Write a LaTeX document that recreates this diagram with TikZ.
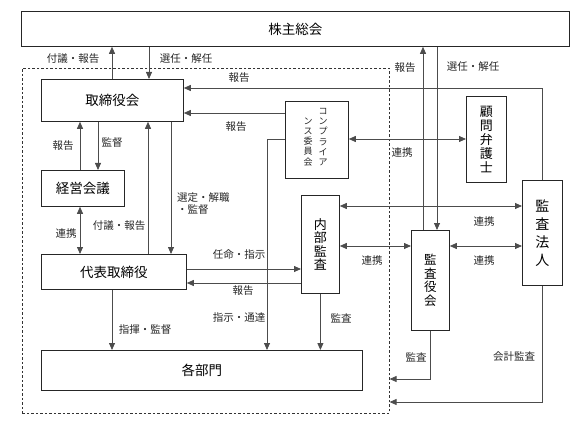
\documentclass[tikz,border=0pt]{standalone}
\usepackage{fontspec}
\setmainfont{Noto Sans CJK JP}
\usetikzlibrary{arrows.meta}
\tikzset{
  box/.style={draw=black!85, line width=0.8pt, inner sep=0pt, anchor=north west, font=\fontsize{13.5}{15}\selectfont},
  conn/.style={draw=black!70, line width=0.8pt},
  arr/.style={conn, -{Triangle[length=7pt,width=6pt]}},
  darr/.style={conn, {Triangle[length=7pt,width=6pt]}-{Triangle[length=7pt,width=6pt]}},
  lbl/.style={font=\fontsize{10.5}{12}\selectfont, inner sep=0pt, text=black!85},
  grpbox/.style={draw=black!80, line width=0.6pt, dash pattern=on 2.5pt off 2pt, inner sep=0pt, anchor=north west}
}
\begin{document}
\begin{tikzpicture}[x=1pt, y=-1pt]
\useasboundingbox (0,0) rectangle (576,433);
% dashed group
\node[grpbox, minimum width=367pt, minimum height=345pt] (grp) at (22,68) {};
% boxes
\node[box, minimum width=548pt, minimum height=35pt] (kabu) at (21,11) {株主総会};
\node[box, minimum width=142pt, minimum height=42pt] (tori) at (41,79) {取締役会};
\node[box, minimum width=83pt, minimum height=36pt] (keiei) at (41,170) {経営会議};
\node[box, minimum width=145pt, minimum height=35pt] (daihyo) at (41,254) {代表取締役};
\node[box, minimum width=321pt, minimum height=40pt] (bumon) at (41,350) {各部門};
\node[box, minimum width=63pt, minimum height=77pt] (comp) at (285,101) {};
\node[box, minimum width=38pt, minimum height=98pt, align=center, font=\fontsize{13}{13.5}\selectfont] (naibu) at (301,195) {内\\部\\監\\査};
\node[box, minimum width=40pt, minimum height=86pt, align=center, font=\fontsize{13}{14}\selectfont] (komon) at (466,96) {顧\\問\\弁\\護\\士};
\node[box, minimum width=40pt, minimum height=105pt, align=center, font=\fontsize{14}{18}\selectfont] (hojin) at (522,180) {監\\査\\法\\人};
\node[box, minimum width=38pt, minimum height=100pt, align=center, font=\fontsize{12.5}{13.5}\selectfont] (kansa) at (411,230) {監\\査\\役\\会};
% compliance vertical text
\node[align=center, inner sep=0pt, anchor=south, font=\fontsize{9}{10.2}\selectfont, text=black!85] (compr) at (323,166) {コ\\ン\\プ\\ラ\\イ\\ア};
\node[align=center, inner sep=0pt, anchor=south, font=\fontsize{9}{10.2}\selectfont, text=black!85] (compl) at (308,166) {ン\\ス\\委\\員\\会};
% helper coordinates
\coordinate (x80) at (80,0);
\coordinate (x98) at (98,0);
\coordinate (x112) at (112,0);
\coordinate (x148) at (148,0);
\coordinate (x149) at (149,0);
\coordinate (x171) at (171,0);
\coordinate (x267) at (267,0);
\coordinate (x423) at (423,0);
\coordinate (x437) at (437,0);
\coordinate (y88) at (0,88);
\coordinate (y113) at (0,113);
\coordinate (y139) at (0,139);
\coordinate (y206) at (0,206);
\coordinate (y246) at (0,246);
\coordinate (y269) at (0,269);
\coordinate (y283) at (0,283);
\coordinate (y379) at (0,379);
\coordinate (y402) at (0,402);
% connectors
\draw[arr] (tori.north -| x112) -- (kabu.south -| x112);
\draw[arr] (kabu.south -| x149) -- (tori.north -| x149);
\draw[arr] (hojin.north) |- (tori.east |- y88);
\draw[arr] (comp.west |- y113) -- (tori.east |- y113);
\draw[arr] (comp.west |- y139) -| (bumon.north -| x267);
\draw[arr] (keiei.north -| x80) -- (tori.south -| x80);
\draw[arr] (tori.south -| x98) -- (keiei.north -| x98);
\draw[darr] (keiei.south -| x80) -- (daihyo.north -| x80);
\draw[arr] (daihyo.north -| x148) -- (tori.south -| x148);
\draw[arr] (tori.south -| x171) -- (daihyo.north -| x171);
\draw[arr] (daihyo.east |- y269) -- (naibu.west |- y269);
\draw[arr] (naibu.west |- y283) -- (daihyo.east |- y283);
\draw[arr] (daihyo.south -| x112) -- (bumon.north -| x112);
\draw[arr] (naibu.south) -- (bumon.north -| naibu.south);
\draw[darr] (comp.east |- y139) -- (komon.west |- y139);
\draw[darr] (naibu.east |- y206) -- (hojin.west |- y206);
\draw[darr] (naibu.east |- y246) -- (kansa.west |- y246);
\draw[darr] (kansa.east |- y246) -- (hojin.west |- y246);
\draw[arr] (kansa.north -| x423) -- (kabu.south -| x423);
\draw[arr] (kabu.south -| x437) -- (kansa.north -| x437);
\draw[arr] (kansa.south) |- (grp.east |- y379);
\draw[arr] (hojin.south) |- (grp.east |- y402);
% labels
\node[lbl] (l1) at (73,59) {付議・報告};
\node[lbl] (l2) at (186,59) {選任・解任};
\node[lbl] (l3) at (239,78) {報告};
\node[lbl] (l4) at (405,68) {報告};
\node[lbl] (l5) at (473,67) {選任・解任};
\node[lbl] (l6) at (236,127) {報告};
\node[lbl] (l7) at (63,146) {報告};
\node[lbl] (l8) at (112,143) {監督};
\node[lbl] (l9) at (66,234) {連携};
\node[lbl] (l10) at (119,226) {付議・報告};
\node[lbl, anchor=north west, align=left, font=\fontsize{10.5}{12.5}\selectfont] (l11) at (177,192) {選定・解職\\・監督};
\node[lbl] (l12) at (239,255) {任命・指示};
\node[lbl] (l13) at (243,291) {報告};
\node[lbl] (l14) at (239,318) {指示・通達};
\node[lbl] (l15) at (145,330) {指揮・監督};
\node[lbl] (l16) at (341,318) {監査};
\node[lbl] (l17) at (402,153) {連携};
\node[lbl] (l18) at (484,222) {連携};
\node[lbl] (l19) at (372,261) {連携};
\node[lbl] (l20) at (484,261) {連携};
\node[lbl] (l21) at (416,357) {監査};
\node[lbl] (l22) at (514,357) {会計監査};
\end{tikzpicture}
\end{document}
